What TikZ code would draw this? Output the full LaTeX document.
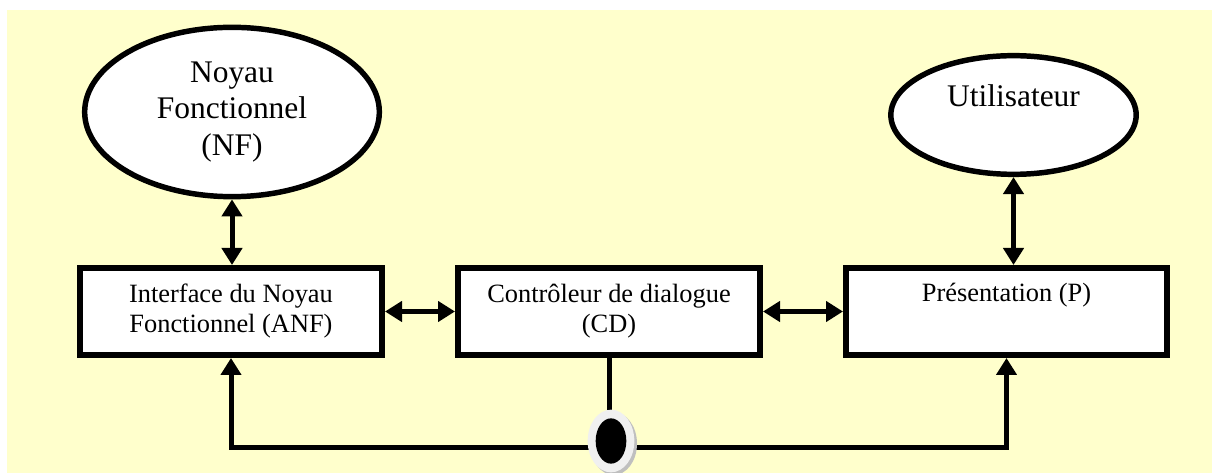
\documentclass[tikz,border=0pt]{standalone}
\usepackage{fontspec}
\setmainfont{Liberation Serif}
\usetikzlibrary{arrows.meta,shapes,shadows,positioning,calc}
\definecolor{fond}{HTML}{FFFFCC}
\definecolor{pastille}{HTML}{F0F0F0}

\begin{document}
\begin{tikzpicture}[x=0.75pt,y=-0.75pt,
	entite/.style={ellipse,draw,line width=4.1pt,fill=white,inner sep=0pt,align=center,
		font=\fontsize{23.6}{27.5}\selectfont},
	module/.style={rectangle,draw,line width=4.5pt,fill=white,inner sep=0pt,align=center,
		minimum height=65.25pt,font=\fontsize{19.8}{22.5}\selectfont},
	fleche/.style={line width=3.75pt,-{Triangle[width=15pt,length=12.75pt]}},
	lien/.style={line width=3.75pt,{Triangle[width=15pt,length=12.75pt]}-{Triangle[width=15pt,length=12.75pt]}}]

	% fond
	\useasboundingbox (0,0) rectangle (1212,473);
	\fill[fond] (7,10) rectangle (1212,473);

	% entites
	\node[entite, minimum width=221pt, minimum height=127pt] (NF) at (232,112) {Noyau\\Fonctionnel\\(NF)};
	\node[entite, minimum width=184pt, minimum height=89pt] (U) at (1013.5,115) {Utilisateur\\[-6pt]\strut};

	% modules
	\node[module, minimum width=226.5pt] (ANF) at (231,311.5) {Interface du Noyau\\Fonctionnel (ANF)};
	\node[module, minimum width=226.5pt] (CD) at (609,311.5) {Contr\^oleur de dialogue\\(CD)};
	\node[module, minimum width=240.75pt] (P) at (1006.5,311.5) {Pr\'esentation (P)\\\strut};

	\draw[lien] (NF.south) -- (NF.south |- ANF.north);
	\draw[lien] (U.south) -- (U.south |- P.north);
	\draw[lien] (ANF) -- (CD);
	\draw[lien] (CD) -- (P);

	% retour vers ANF et P
	\coordinate (bus) at (610,447);
	\draw[fleche] (bus) -| (ANF.south);
	\draw[fleche] (bus) -| (P.south);
	\draw[line width=3.75pt] (CD.south) -- (CD.south |- bus);

	\node[ellipse, fill=pastille, minimum width=35pt, minimum height=47pt, inner sep=0pt,
		drop shadow={shadow xshift=2pt,shadow yshift=-2pt,fill=gray!50,opacity=1}] (mk) at (611,441) {};
	\node[ellipse, fill=black, minimum width=23pt, minimum height=34pt, inner sep=0pt] (mkc) at (mk) {};
\end{tikzpicture}
\end{document}
